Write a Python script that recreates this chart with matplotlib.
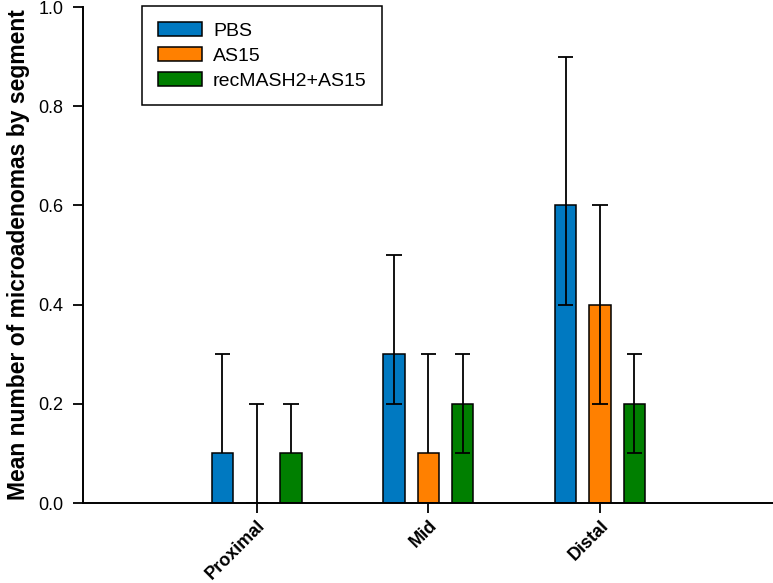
import matplotlib.pyplot as plt
import numpy as np
from matplotlib.patches import Patch

plt.rcParams['font.family'] = ['Liberation Sans', 'DejaVu Sans']

# data
segments = ['Proximal', 'Mid', 'Distal']
groups = ['PBS', 'AS15', 'recMASH2+AS15']
colors = ['#0079C1', '#FF8000', '#007F00']
means = [[0.1, 0.3, 0.6],
         [0.0, 0.1, 0.4],
         [0.1, 0.2, 0.2]]
err_low = [[0.1, 0.2, 0.4],
           [0.0, 0.1, 0.2],
           [0.1, 0.1, 0.1]]
err_high = [[0.3, 0.5, 0.9],
            [0.2, 0.3, 0.6],
            [0.2, 0.3, 0.3]]

fig = plt.figure(figsize=(7.73, 5.83), dpi=100)
ax = fig.add_axes([83 / 773, 80 / 583, 690 / 773, 496 / 583])

x = np.arange(1, len(segments) + 1)
offsets = [-0.2, 0.0, 0.2]
width = 0.126
cap = 0.044

for i in range(len(groups)):
    xs = x + offsets[i]
    ax.bar(xs, means[i], width, color=colors[i], edgecolor='black',
           linewidth=1.1, zorder=2)
    for j in range(len(segments)):
        m, lo, hi = means[i][j], err_low[i][j], err_high[i][j]
        ax.vlines(xs[j], lo, hi, color='black', linewidth=1.3, zorder=3)
        ax.hlines(hi, xs[j] - cap, xs[j] + cap, color='black', linewidth=1.3, zorder=3)
        if lo < m:
            ax.hlines(lo, xs[j] - cap, xs[j] + cap, color='black', linewidth=1.3, zorder=3)

ax.set_xlim(-0.012, 4.008)
ax.set_ylim(0, 1.0)
ax.set_yticks(np.arange(0, 1.01, 0.2))
ax.set_yticklabels(['%.1f' % v for v in np.arange(0, 1.01, 0.2)], fontsize=13)
ax.set_xticks(x)
ax.set_xticklabels(segments, rotation=45, ha='right', rotation_mode='anchor',
                   fontsize=13, fontweight='bold')
ax.tick_params(axis='y', direction='out', length=7, width=1.3, pad=7)
ax.tick_params(axis='x', direction='out', length=7, width=1.3, pad=3)
ax.set_ylabel('Mean number of microadenomas by segment', fontsize=16.5,
              fontweight='bold', labelpad=6)

ax.spines['top'].set_visible(False)
ax.spines['right'].set_visible(False)
ax.spines['left'].set_linewidth(1.4)
ax.spines['bottom'].set_linewidth(1.4)

handles = [Patch(facecolor=c, edgecolor='black', linewidth=1.1, label=g)
           for c, g in zip(colors, groups)]
leg = ax.legend(handles=handles, loc='upper left',
                bbox_to_anchor=((142 - 83) / 690, 1.0015),
                fontsize=14, fancybox=False, edgecolor='black', framealpha=1,
                handlelength=2.3, handleheight=0.72, handletextpad=0.55,
                borderpad=0.8, labelspacing=0.38, borderaxespad=0)
leg.get_frame().set_linewidth(1.1)

plt.savefig('out.png', dpi=100)
